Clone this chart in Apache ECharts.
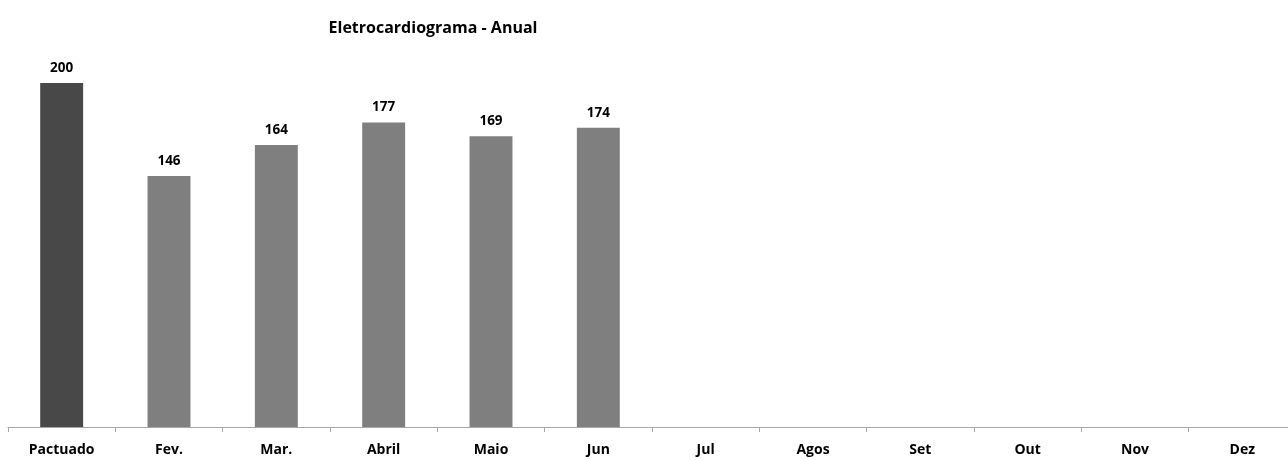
<!DOCTYPE html>
<html>
<head>
<meta charset="utf-8">
<script src="https://cdn.jsdelivr.net/npm/echarts@6/dist/echarts.min.js"></script>
<style>
  html, body { margin: 0; padding: 0; background: #fff; }
  #chart { width: 1288px; height: 460px; }
</style>
</head>
<body>
<div id="chart"></div>
<script>
// Monthly ECG exams against the agreed (Pactuado) target
const titleText = 'Eletrocardiograma - Anual';
const categories = ['Pactuado', 'Fev.', 'Mar.', 'Abril', 'Maio', 'Jun', 'Jul', 'Agos', 'Set', 'Out', 'Nov', 'Dez'];
const values = [200, 146, 164, 177, 169, 174, null, null, null, null, null, null];

const FONT = '"Open Sans", Lato, sans-serif';
const targetColor = '#484848';
const monthColor = '#7f7f7f';

const chart = echarts.init(document.getElementById('chart'), null, { renderer: 'canvas' });

chart.setOption({
  animation: false,
  backgroundColor: '#ffffff',
  title: {
    text: titleText,
    left: 428,
    top: 15,
    textAlign: 'center',
    textStyle: { fontFamily: FONT, fontSize: 16, fontWeight: 'bold', color: '#000' }
  },
  // the category axis runs a little past the right edge of the canvas
  grid: { left: 8, right: -8, top: 83, bottom: 33, containLabel: false, outerBoundsMode: 'none' },
  xAxis: {
    type: 'category',
    data: categories,
    boundaryGap: true,
    axisLine: { lineStyle: { color: '#a6a6a6', width: 1 } },
    axisTick: { show: true, alignWithLabel: false, length: 5, lineStyle: { color: '#a6a6a6' } },
    axisLabel: {
      margin: 16,
      fontFamily: FONT,
      fontSize: 14,
      fontWeight: 'bold',
      color: '#000',
      interval: 0
    }
  },
  yAxis: {
    type: 'value',
    min: 0,
    max: 200,
    show: false,
    splitLine: { show: false }
  },
  series: [{
    type: 'bar',
    data: values.map((v, i) => v == null ? null : {
      value: v,
      itemStyle: { color: i === 0 ? targetColor : monthColor }
    }),
    barWidth: '40%',
    label: {
      show: true,
      position: 'top',
      distance: 8,
      fontFamily: FONT,
      fontSize: 13.5,
      fontWeight: 'bold',
      color: '#000'
    }
  }]
});
</script>
</body>
</html>
